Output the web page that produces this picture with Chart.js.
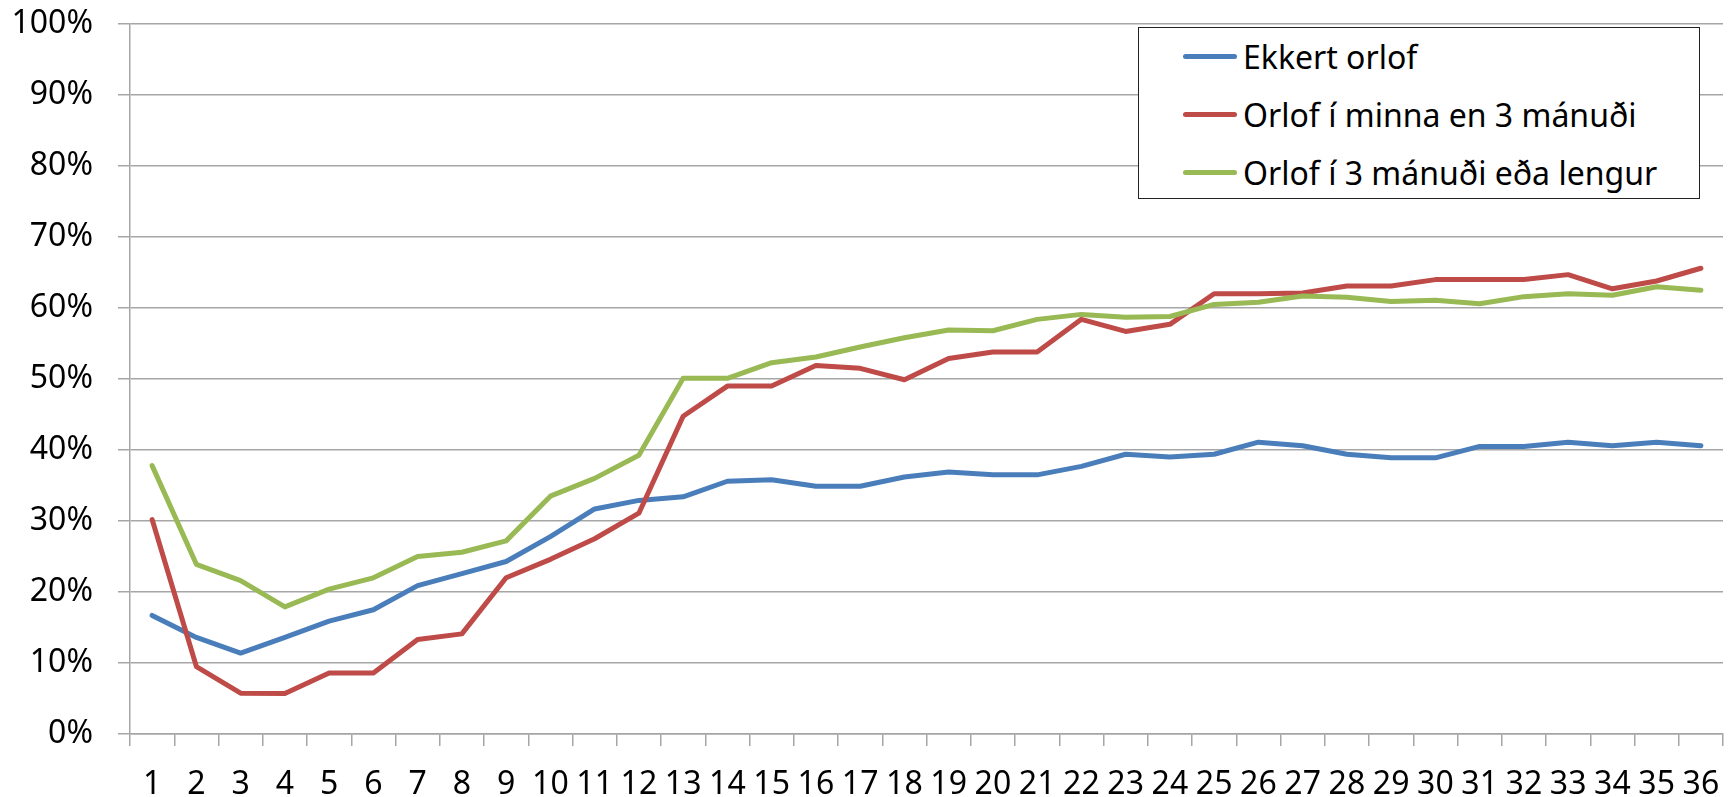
<!DOCTYPE html>
<html>
<head>
<meta charset="utf-8">
<script src="https://cdn.jsdelivr.net/npm/chart.js@4"></script>
<style>
  html, body { margin: 0; padding: 0; background: #fff; }
  #wrap { position: relative; width: 1735px; height: 797px; }
  #legend {
    position: absolute; left: 1138px; top: 27px; width: 560px; height: 170px;
    border: 1.5px solid #222; background: #fff;
    font-family: "Noto Sans", sans-serif; font-size: 32px; color: #000;
  }
  #legend .row { position: absolute; left: 0; height: 40px; display: flex; align-items: center; }
  #legend .swatch { width: 54px; height: 5px; border-radius: 3px; margin-left: 44px; margin-right: 6px; }
</style>
</head>
<body>
<div id="wrap">
  <canvas id="chart"></canvas>
  <div id="legend"></div>
</div>
<script>
// ─── Data ─────────────────────────────────────────────────────────────────────
const categories = ['1','2','3','4','5','6','7','8','9','10','11','12','13','14','15','16','17','18',
                    '19','20','21','22','23','24','25','26','27','28','29','30','31','32','33','34','35','36'];

const seriesNames = ['Ekkert orlof', 'Orlof í minna en 3 mánuði', 'Orlof í 3 mánuði eða lengur'];

const ekkertOrlof = [16.7, 13.6, 11.4, 13.6, 15.9, 17.5, 20.9, 22.6, 24.3, 27.8, 31.7, 32.9,
                     33.4, 35.6, 35.8, 34.9, 34.9, 36.2, 36.9, 36.5, 36.5, 37.7, 39.4, 39.0,
                     39.4, 41.1, 40.6, 39.4, 38.9, 38.9, 40.5, 40.5, 41.1, 40.6, 41.1, 40.6];

const minnaEn3 = [30.2, 9.5, 5.75, 5.7, 8.6, 8.6, 13.3, 14.1, 22.0, 24.6, 27.5, 31.1,
                  44.75, 49.0, 49.0, 51.9, 51.5, 49.9, 52.9, 53.8, 53.8, 58.4, 56.7, 57.7,
                  62.0, 62.0, 62.1, 63.1, 63.1, 64.0, 64.0, 64.0, 64.7, 62.7, 63.8, 65.6];

const lengur3 = [37.8, 23.9, 21.6, 17.9, 20.4, 22.0, 25.0, 25.6, 27.2, 33.5, 36.0, 39.25,
                 50.1, 50.1, 52.3, 53.1, 54.5, 55.8, 56.9, 56.8, 58.4, 59.1, 58.7, 58.8,
                 60.5, 60.8, 61.7, 61.5, 60.9, 61.1, 60.6, 61.6, 62.0, 61.8, 63.0, 62.5];

const colors = ['#4A7EBB', '#BE4B48', '#98B954'];

// ─── Chart ────────────────────────────────────────────────────────────────────
const canvas = document.getElementById('chart');
canvas.width = 1735; canvas.height = 797;

const FONT = { family: '"Noto Sans", sans-serif', size: 32 };
const GRID = '#A6A6A6';

const mkSet = (i, data, order) => ({
  label: seriesNames[i],
  data,
  borderColor: colors[i],
  backgroundColor: colors[i],
  borderWidth: 5,
  pointRadius: 0,
  tension: 0,
  borderJoinStyle: 'round',
  borderCapStyle: 'round',
  order,
});

const chart = new Chart(canvas.getContext('2d'), {
  type: 'line',
  data: {
    labels: categories,
    datasets: [mkSet(0, ekkertOrlof, 3), mkSet(1, minnaEn3, 2), mkSet(2, lengur3, 1)]
  },
  options: {
    responsive: false,
    animation: false,
    layout: { padding: { left: 0, right: 12, top: 24, bottom: 0 } },
    plugins: { legend: { display: false }, tooltip: { enabled: false } },
    scales: {
      x: {
        offset: true,
        grid: { offset: true, drawOnChartArea: false, color: GRID, lineWidth: 1.5, tickLength: 12 },
        border: { color: GRID, width: 1.5 },
        ticks: { color: '#000', font: FONT, padding: 20, autoSkip: false, maxRotation: 0 },
        afterFit: s => { s.height = 63; s.paddingLeft = 0; s.paddingRight = 0; }
      },
      y: {
        min: 0, max: 100,
        grid: { color: GRID, lineWidth: 1.5, tickLength: 12 },
        border: { color: GRID, width: 1.5 },
        ticks: { color: '#000', font: FONT, stepSize: 10, padding: 25, callback: v => v + '%' },
        afterFit: s => { s.width = 130; s.paddingTop = 0; s.paddingBottom = 0; }
      }
    }
  }
});

// ─── Legend (HTML, inside plot top-right) ─────────────────────────────────────
const legend = document.getElementById('legend');
chart.data.datasets.forEach((ds, i) => {
  const row = document.createElement('div');
  row.className = 'row';
  row.style.top = (8 + i * 58) + 'px';
  const sw = document.createElement('div');
  sw.className = 'swatch';
  sw.style.background = ds.borderColor;
  const txt = document.createElement('span');
  txt.textContent = ds.label;
  row.appendChild(sw); row.appendChild(txt);
  legend.appendChild(row);
});
</script>
</body>
</html>
